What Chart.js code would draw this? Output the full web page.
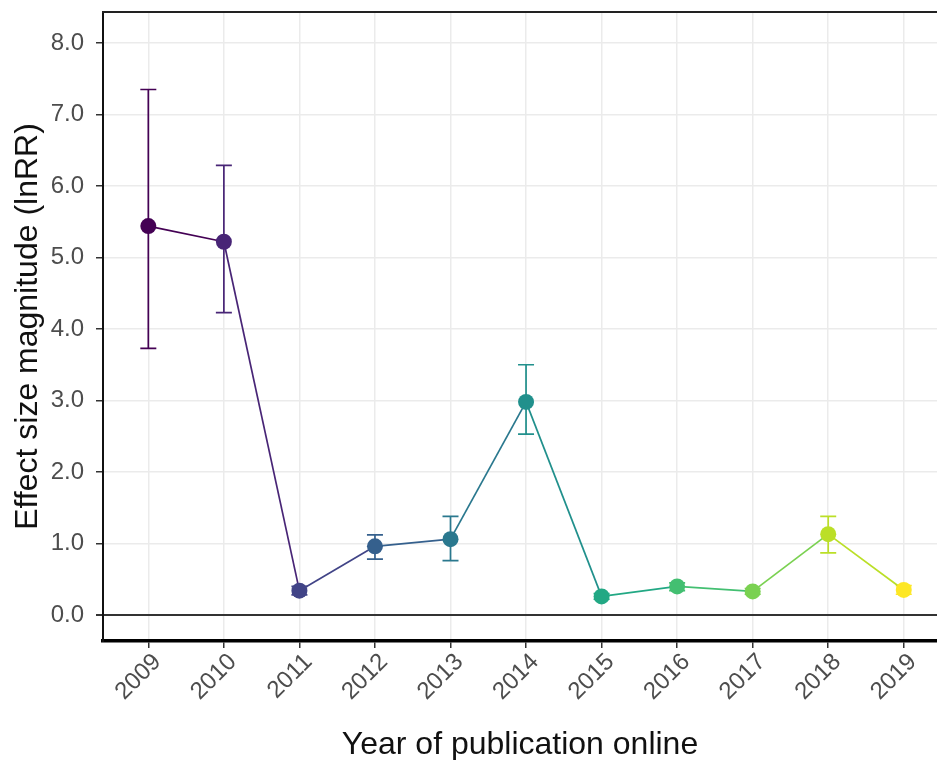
<!DOCTYPE html>
<html>
<head>
<meta charset="utf-8">
<script src="https://cdn.jsdelivr.net/npm/chart.js@4.4.1/dist/chart.umd.min.js"></script>
<style>
  html, body { margin: 0; padding: 0; background: #fff; overflow: hidden; }
  #wrap { width: 937px; height: 760px; }
</style>
</head>
<body>
<div id="wrap"><canvas id="effChart" width="937" height="760"></canvas></div>
<script>
// data
const years   = [2009, 2010, 2011, 2012, 2013, 2014, 2015, 2016, 2017, 2018, 2019];
const effect  = [5.44, 5.22, 0.34, 0.96, 1.06, 2.98, 0.26, 0.40, 0.33, 1.13, 0.35];
const ciLower = [3.73, 4.23, 0.28, 0.78, 0.76, 2.53, 0.22, 0.34, 0.29, 0.87, 0.29];
const ciUpper = [7.35, 6.29, 0.40, 1.12, 1.38, 3.50, 0.30, 0.45, 0.37, 1.38, 0.41];
const yTicks  = [0, 1, 2, 3, 4, 5, 6, 7, 8];
// viridis, one per year
const colors  = ['#440154', '#482576', '#414487', '#35608D', '#2A788E', '#21908C',
                 '#22A884', '#43BF71', '#7AD151', '#BBDF27', '#FDE725'];

const FONT = '"Liberation Sans", Arial, sans-serif';

// error bars drawn behind the points
const errorBars = {
  id: 'errorBars',
  beforeDatasetsDraw(chart) {
    const { ctx, scales: { x, y } } = chart;
    ctx.save();
    ctx.lineWidth = 1.7;
    years.forEach((yr, i) => {
      const px = x.getPixelForValue(yr);
      const lo = y.getPixelForValue(ciLower[i]);
      const hi = y.getPixelForValue(ciUpper[i]);
      ctx.strokeStyle = colors[i];
      ctx.beginPath();
      ctx.moveTo(px, lo); ctx.lineTo(px, hi);
      ctx.moveTo(px - 8, lo); ctx.lineTo(px + 8, lo);
      ctx.moveTo(px - 8, hi); ctx.lineTo(px + 8, hi);
      ctx.stroke();
    });
    ctx.restore();
  }
};

// top border of the panel
const topBorder = {
  id: 'topBorder',
  afterDraw(chart) {
    const { ctx, chartArea: a } = chart;
    ctx.save();
    ctx.strokeStyle = '#222';
    ctx.lineWidth = 2;
    ctx.beginPath();
    ctx.moveTo(a.left - 1, a.top);
    ctx.lineTo(a.right, a.top);
    ctx.stroke();
    ctx.restore();
  }
};

new Chart(document.getElementById('effChart').getContext('2d'), {
  type: 'line',
  data: {
    datasets: [{
      data: years.map((yr, i) => ({ x: yr, y: effect[i] })),
      borderWidth: 1.7,
      segment: { borderColor: c => colors[c.p0DataIndex] },
      pointRadius: 8,
      pointHoverRadius: 8,
      pointBorderWidth: 0,
      pointBackgroundColor: colors,
      pointBorderColor: colors,
      tension: 0
    }]
  },
  options: {
    responsive: false,
    animation: false,
    layout: { autoPadding: false, padding: { top: 12, right: 0, left: 0, bottom: 0 } },
    plugins: { legend: { display: false }, tooltip: { enabled: false } },
    scales: {
      x: {
        type: 'linear',
        min: 2008.4,
        max: 2019.44,
        afterBuildTicks: s => { s.ticks = years.map(v => ({ value: v })); },
        afterFit: s => { s.height = 119; s.paddingLeft = 0; s.paddingRight = 0; },
        grid: { color: '#ebebeb', lineWidth: 1.5, tickColor: '#333', tickLength: 7, drawTicks: true },
        border: { color: '#000', width: 3.5 },
        ticks: {
          callback: v => String(v),
          maxRotation: 45, minRotation: 45,
          color: '#4d4d4d',
          font: { family: FONT, size: 24 },
          padding: 0,
          labelOffset: 9
        },
        title: {
          display: true,
          text: 'Year of publication online',
          color: '#111',
          font: { family: FONT, size: 32 },
          padding: { top: 0, bottom: -4 }
        }
      },
      y: {
        min: -0.364,
        max: 8.434,
        afterBuildTicks: s => { s.ticks = yTicks.map(v => ({ value: v })); },
        afterFit: s => { s.width = 103; s.paddingTop = 0; s.paddingBottom = 0; },
        grid: {
          color: c => c.tick && c.tick.value === 0 ? '#333' : '#ebebeb',
          lineWidth: c => c.tick && c.tick.value === 0 ? 2 : 1.5,
          tickColor: '#333',
          tickLength: 7
        },
        border: { color: '#111', width: 2 },
        ticks: {
          callback: v => v.toFixed(1),
          color: '#4d4d4d',
          font: { family: FONT, size: 24 },
          padding: 12
        },
        title: {
          display: true,
          text: 'Effect size magnitude (lnRR)',
          color: '#111',
          font: { family: FONT, size: 32 },
          padding: { top: 9, bottom: 0 }
        }
      }
    }
  },
  plugins: [errorBars, topBorder]
});
</script>
</body>
</html>
